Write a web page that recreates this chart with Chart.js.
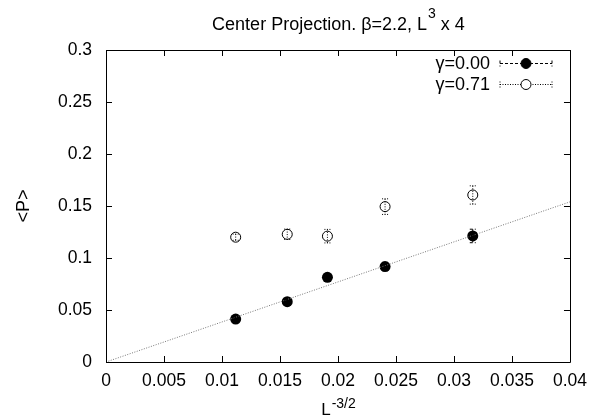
<!DOCTYPE html>
<html>
<head>
<meta charset="utf-8">
<script src="https://cdn.jsdelivr.net/npm/chart.js@4"></script>
<style>
  html, body { margin: 0; padding: 0; background: #fff; }
  #wrap { width: 596px; height: 416px; }
</style>
</head>
<body>
<div id="wrap"><canvas id="chart" width="596" height="416"></canvas></div>
<script>
// L^-3/2 for L = 20, 16, 14, 12, 10
const xVals = [0.01118, 0.015625, 0.01909, 0.02406, 0.03162];
const pGamma000 = [0.0413, 0.0580, 0.0814, 0.0918, 0.1212];
const errGamma000 = [0.002, 0.002, 0.003, 0.004, 0.0065];
const pGamma071 = [0.1200, 0.1228, 0.1210, 0.1494, 0.1606];
const errGamma071 = [0.003, 0.005, 0.0065, 0.0075, 0.0088];
const fitX = [0, 0.04];
const fitY = [0, 0.154];
const seriesNames = ["γ=0.00", "γ=0.71"];

const FONT = "'Liberation Sans', Arial, Helvetica, sans-serif";

function pts(xs, ys) {
    return xs.map((x, i) => ({ x: x, y: ys[i] }));
}

// error bars, drawn through the scales
const errorBars = {
    id: "errorBars",
    afterDatasetsDraw(chart) {
        const ctx = chart.ctx;
        const xs = chart.scales.x, ys = chart.scales.y;
        const sets = [[pGamma000, errGamma000, [3, 2]], [pGamma071, errGamma071, [1, 1.5]]];
        sets.forEach(([vals, errs, dash]) => {
            ctx.save();
            ctx.strokeStyle = "#000";
            ctx.lineWidth = 1;
            ctx.setLineDash(dash);
            xVals.forEach((x, i) => {
                const px = xs.getPixelForValue(x);
                const top = ys.getPixelForValue(vals[i] + errs[i]);
                const bot = ys.getPixelForValue(vals[i] - errs[i]);
                ctx.beginPath();
                ctx.moveTo(px, top); ctx.lineTo(px, bot);
                ctx.moveTo(px - 3, top); ctx.lineTo(px + 3, top);
                ctx.moveTo(px - 3, bot); ctx.lineTo(px + 3, bot);
                ctx.stroke();
            });
            ctx.restore();
        });
    }
};

// frame, mirrored inward ticks, titles and legend
const decor = {
    id: "decor",
    afterDraw(chart) {
        const ctx = chart.ctx;
        const a = chart.chartArea;
        const xs = chart.scales.x, ys = chart.scales.y;
        ctx.save();
        ctx.strokeStyle = "#000";
        ctx.lineWidth = 1;
        ctx.beginPath();
        ctx.rect(Math.round(a.left) + 0.5, Math.round(a.top) + 0.5,
                 Math.round(a.right - a.left), Math.round(a.bottom - a.top));
        xs.ticks.forEach(t => {
            const px = Math.round(xs.getPixelForValue(t.value)) + 0.5;
            ctx.moveTo(px, a.bottom); ctx.lineTo(px, a.bottom - 6);
            ctx.moveTo(px, a.top); ctx.lineTo(px, a.top + 6);
        });
        ys.ticks.forEach(t => {
            const py = Math.round(ys.getPixelForValue(t.value)) + 0.5;
            ctx.moveTo(a.left, py); ctx.lineTo(a.left + 6, py);
            ctx.moveTo(a.right, py); ctx.lineTo(a.right - 6, py);
        });
        ctx.stroke();

        ctx.fillStyle = "#000";
        ctx.textBaseline = "alphabetic";
        const cx = (a.left + a.right) / 2;

        // title with superscript
        const big = "18px " + FONT, small = "14px " + FONT;
        const t1 = "Center Projection. β=2.2, L", t2 = "3", t3 = " x 4";
        ctx.font = big; const w1 = ctx.measureText(t1).width, w3 = ctx.measureText(t3).width;
        ctx.font = small; const w2 = ctx.measureText(t2).width;
        let x0 = cx - (w1 + w2 + w3) / 2;
        ctx.textAlign = "left";
        ctx.font = big; ctx.fillText(t1, x0, 30);
        ctx.font = small; ctx.fillText(t2, x0 + w1 + 1, 18);
        ctx.font = big; ctx.fillText(t3, x0 + w1 + w2 + 1, 30);

        // x axis title
        const s1 = "L", s2 = "-3/2";
        ctx.font = "17px " + FONT; const v1 = ctx.measureText(s1).width;
        ctx.font = small; const v2 = ctx.measureText(s2).width;
        x0 = cx - (v1 + v2) / 2;
        ctx.font = "17px " + FONT; ctx.fillText(s1, x0, 415);
        ctx.font = small; ctx.fillText(s2, x0 + v1 + 1, 408);

        // y axis title
        ctx.save();
        ctx.translate(29, (a.top + a.bottom) / 2);
        ctx.rotate(-Math.PI / 2);
        ctx.textAlign = "center";
        ctx.font = big;
        ctx.fillText("<P>", 0, 0);
        ctx.restore();

        // legend
        const rows = [
            { y: 63, dash: [3, 2], fill: "#000" },
            { y: 84, dash: [1, 1.5], fill: "#fff" }
        ];
        rows.forEach((r, i) => {
            ctx.font = big;
            ctx.textAlign = "right";
            ctx.textBaseline = "middle";
            ctx.fillText(seriesNames[i], 490, r.y + 1);
            ctx.setLineDash(r.dash);
            ctx.beginPath();
            ctx.moveTo(500, r.y + 0.5); ctx.lineTo(552, r.y + 0.5);
            ctx.moveTo(500, r.y - 2.5); ctx.lineTo(500, r.y + 3.5);
            ctx.moveTo(552, r.y - 2.5); ctx.lineTo(552, r.y + 3.5);
            ctx.stroke();
            ctx.setLineDash([]);
            ctx.beginPath();
            ctx.arc(526, r.y + 0.5, 5, 0, Math.PI * 2);
            ctx.fillStyle = r.fill;
            ctx.fill();
            ctx.stroke();
            ctx.fillStyle = "#000";
        });
        ctx.restore();
    }
};

new Chart(document.getElementById("chart"), {
    type: "scatter",
    data: {
        datasets: [
            {
                label: "fit",
                data: pts(fitX, fitY),
                showLine: true,
                borderColor: "#777",
                borderWidth: 1,
                borderDash: [1, 1.5],
                pointRadius: 0
            },
            {
                label: seriesNames[0],
                data: pts(xVals, pGamma000),
                backgroundColor: "#000",
                borderColor: "#000",
                pointRadius: 5.5,
                pointBorderWidth: 0
            },
            {
                label: seriesNames[1],
                data: pts(xVals, pGamma071),
                backgroundColor: "rgba(255,255,255,0)",
                borderColor: "#000",
                pointRadius: 5,
                pointBorderWidth: 1
            }
        ]
    },
    options: {
        responsive: false,
        devicePixelRatio: 1,
        animation: false,
        layout: { padding: { top: 50, right: 23, left: 0, bottom: 0 } },
        plugins: {
            legend: { display: false },
            title: { display: false },
            tooltip: { enabled: false }
        },
        scales: {
            x: {
                type: "linear",
                min: 0,
                max: 0.04,
                grid: { display: false, drawTicks: false },
                border: { display: false },
                ticks: {
                    stepSize: 0.005,
                    padding: 9,
                    color: "#000",
                    maxRotation: 0,
                    autoSkip: false,
                    font: { family: FONT, size: 17.5 },
                    callback: v => String(+v.toFixed(3))
                },
                afterFit(s) { s.height = 54; }
            },
            y: {
                min: 0,
                max: 0.3,
                grid: { display: false, drawTicks: false },
                border: { display: false },
                ticks: {
                    stepSize: 0.05,
                    padding: 14,
                    color: "#000",
                    font: { family: FONT, size: 17.5 },
                    callback: v => String(+v.toFixed(2))
                },
                afterFit(s) { s.width = 106; }
            }
        }
    },
    plugins: [errorBars, decor]
});
</script>
</body>
</html>
